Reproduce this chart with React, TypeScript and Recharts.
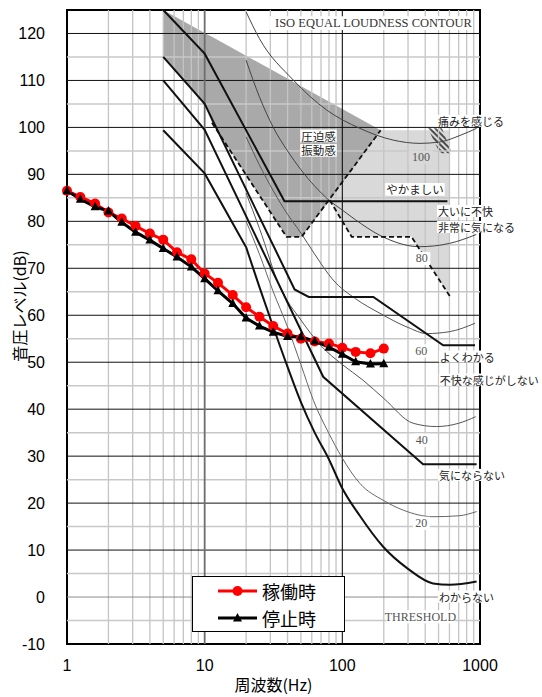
import { Area, ComposedChart, Legend, Line, ReferenceArea, ReferenceLine, Scatter, XAxis, YAxis } from 'recharts'

type Pt = [number, number]
type Band = [number, number, number]
type Tag = [number, number, string]

// 1/3 octave bands (Hz) and measured levels (dB)
const freqs = [1, 1.25, 1.6, 2, 2.5, 3.15, 4, 5, 6.3, 8, 10, 12.5, 16, 20, 25, 31.5, 40, 50, 63, 80, 100, 125, 160, 200]
const running = [86.5, 85.2, 83.8, 81.9, 80.6, 79.0, 77.4, 76.1, 73.4, 71.9, 68.9, 66.9, 64.3, 61.7, 59.7, 57.7, 56.1, 55.0, 54.4, 54.0, 53.1, 52.2, 51.9, 52.9]
const stopped = [86.5, 84.7, 83.1, 82.2, 79.8, 77.7, 76.0, 74.2, 72.4, 70.3, 67.8, 65.2, 62.5, 59.4, 57.7, 56.4, 55.5, 55.4, 54.5, 53.2, 51.7, 50.1, 49.6, 49.7]

// ISO equal loudness contours
const phon100: Pt[] = [[20, 124.6], [25, 118.9], [44, 110.1], [77, 103.7], [134, 99.8], [234, 97.3], [366, 96.6], [512, 96.9], [717, 98.3], [945, 99.8]]
const phon80: Pt[] = [[20, 114.3], [25, 106.5], [31.5, 100], [40, 95], [50, 91], [63, 87.5], [80, 84.5], [100, 82.4], [125, 80.3], [188, 77], [366, 74.6], [600, 75.3], [940, 77.2]]
const phon60: Pt[] = [[20, 98], [25, 92], [31.5, 86.5], [40, 81.5], [50, 77.5], [63, 73], [85.8, 67.5], [125, 63.5], [188, 60.4], [300, 57.4], [410, 56.1], [600, 56.5], [920, 58.3]]
const phon40: Pt[] = [[20, 86], [25, 78.5], [35.2, 66], [50, 59], [70, 53.5], [100, 49.5], [141, 46.2], [200, 42.3], [327, 37], [482, 36.3], [700, 37], [930, 38.4]]
const phon20: Pt[] = [[20, 80], [25, 73], [31.5, 65], [40, 57.5], [50, 49.5], [61.6, 41.9], [80, 34.8], [98.5, 29.9], [134, 24.2], [198, 20.6], [277, 18.5], [456, 17.1], [700, 17.3], [945, 18.2]]
const threshold: Pt[] = [[20, 74.5], [25, 66], [31.5, 57.5], [40, 49], [50, 41.5], [63, 35], [80, 29.3], [98.5, 23.5], [134, 17.3], [198, 10.7], [300, 6], [456, 2.9], [605, 2.6], [945, 3.3]]

// feeling boundaries
const yakamashii: Pt[] = [[5, 125], [10, 115.7], [38, 84.3], [580, 84.3]]
const yokuwakaru: Pt[] = [[5, 115], [10, 105], [45, 65.5], [57, 63.9], [168, 63.9], [540, 53.6], [920, 53.6]]
const kininaranai: Pt[] = [[5, 110], [10, 99.5], [72.6, 46.9], [386, 28.3], [945, 28.3]]
const wakaranai: Pt[] = [[5, 99.4], [10, 90.2], [20, 74.5]]
const pressureEdge: Pt[] = [[11.3, 101], [39.3, 76.7], [50.6, 76.7], [190, 99.4]]
const annoyEdge: Pt[] = [[81, 84.5], [117, 76.7], [318, 76.7], [605, 64]]

// shaded zones: [Hz, low, high]
const pressureBand: Band[] = [[5, 115, 125], [10, 105, 120.1], [11.3, 101, 119.3], [39.3, 76.7, 110.5], [50.6, 76.7, 108.7], [81, 84.5, 105.4], [190, 99.4, 99.4]]
const loudBand: Band[] = [[81, 84.5, 99.4], [117, 76.7, 99.4], [318, 76.7, 99.4], [605, 64, 99.4]]
const painBand: Band[] = [[418, 99.8, 99.8], [511, 94.5, 99.8], [529, 94.5, 99.8], [625, 94.5, 94.5]]

// annotations
const titleTag: Tag[] = [[873, 122.2, 'ISO EQUAL LOUDNESS CONTOUR']]
const phonTags: Tag[] = [[378, 72.1, '80'], [375, 52.4, '60'], [378, 33.4, '40'], [375, 15.7, '20'], [369, -4.2, 'THRESHOLD']]
const bandPhonTags: Tag[] = [[372, 93.7, '100']]
const zoneTags: Tag[] = [[67.1, 98.2, '圧迫感'], [67.1, 95.1, '振動感'], [337, 86.8, 'やかましい']]
const feelingTags: Tag[] = [[495, 101.4, '痛みを感じる'], [495, 82.2, '大いに不快'], [495, 78.8, '非常に気になる'], [511, 51.2, 'よくわかる'], [511, 46.3, '不快な感じがしない'], [503, 26.0, '気にならない'], [503, 0.1, 'わからない']]

const xTicks = [1, 10, 100, 1000]
const xMinor = [2, 3, 4, 5, 6, 7, 8, 9, 20, 30, 40, 50, 60, 70, 80, 90, 200, 300, 400, 500, 600, 700, 800, 900]
const xMajor = [10, 100]
const yTicks = [-10, 0, 10, 20, 30, 40, 50, 60, 70, 80, 90, 100, 110, 120]
const yMinor = [-5, 5, 15, 25, 35, 45, 55, 65, 75, 85, 95, 105, 115]
const yMajor = [10, 20, 30, 40, 50, 60, 70, 80, 90, 100, 110, 120]

const pts = (a: Pt[]) => a.map(([x, y]) => ({ x, y }))
const band = (a: Band[]) => a.map(([x, lo, hi]) => ({ x, r: [lo, hi] }))
const tags = (a: Tag[]) => a.map(([x, y, text]) => ({ x, y, text }))
const series = (vals: number[]) => freqs.map((x, i) => ({ x, y: vals[i] }))

const SANS = 'Liberation Sans, Arial, sans-serif'
const JP = 'Noto Sans CJK JP, sans-serif'
const SERIF = 'Liberation Serif, serif'

function Note({ cx, cy, payload, anchor, size, family, color, bg }: any) {
  if (cx == null || cy == null) return <g />
  const text: string = payload.text
  const cjk = /[^\x00-\x7f]/.test(text)
  const w = cjk ? text.length * size : text.length * size * 0.62
  const x0 = anchor === 'start' ? cx : anchor === 'end' ? cx - w : cx - w / 2
  return (
    <g>
      {bg && <rect x={x0 - 1} y={cy - size * 0.55} width={w + 2} height={size * 1.1} fill={bg} />}
      <text x={cx} y={cy} textAnchor={anchor} dominantBaseline="central" fontSize={size} fontFamily={family} fill={color}>{text}</text>
    </g>
  )
}

function Triangle(props: any) {
  const { cx, cy } = props
  if (cx == null || cy == null) return <g key={props.key} />
  return <path key={props.key} d={`M${cx},${cy - 5}L${cx + 4.5},${cy + 3.5}L${cx - 4.5},${cy + 3.5}Z`} fill="#000" />
}

function LegendBox() {
  const row = (top: number, color: string, label: string, tri: boolean) => (
    <div style={{ position: 'absolute', left: 0, top, height: 20, display: 'flex', alignItems: 'center' }}>
      <svg width={69} height={20}>
        <line x1={25} x2={64} y1={10} y2={10} stroke={color} strokeWidth={3} />
        {tri ? <path d="M44.5,5L49,13.5L40,13.5Z" fill={color} /> : <circle cx={44.5} cy={10} r={5} fill={color} />}
      </svg>
      <span style={{ fontFamily: JP, fontSize: 18, lineHeight: '20px', color: '#000' }}>{label}</span>
    </div>
  )
  return (
    <div style={{ position: 'relative', width: 153, height: 56, border: '1px solid #000', background: '#fff', boxSizing: 'border-box' }}>
      {row(3.7, '#ff0000', '稼働時', false)}
      {row(31.3, '#000', '停止時', true)}
    </div>
  )
}

export default function App() {
  const guide = (key: string, data: Pt[], stroke: string, width: number, curve: 'linear' | 'monotone', dash?: string) => (
    <Line key={key} data={pts(data)} dataKey="y" type={curve} stroke={stroke} strokeWidth={width} strokeDasharray={dash} dot={false} activeDot={false} isAnimationActive={false} legendType="none" />
  )
  return (
    <div style={{ width: 542, height: 697 }}>
      <style>{'body{margin:0}'}</style>
      <ComposedChart width={542} height={697} margin={{ top: 10, right: 62, bottom: 0, left: 7 }}>
        <defs>
          <pattern id="hatch" width="4" height="4" patternUnits="userSpaceOnUse" patternTransform="rotate(-45)">
            <line x1="1" y1="0" x2="1" y2="4" stroke="#000" strokeWidth="1.3" />
          </pattern>
        </defs>
        <XAxis dataKey="x" type="number" scale="log" domain={[1, 1000]} ticks={xTicks} axisLine={false} tickLine={false} tickSize={0} tickMargin={16} height={53}
          tick={{ fill: '#000', fontSize: 16, fontFamily: SANS }}
          label={{ value: '周波数(Hz)', position: 'insideBottom', offset: 6, fill: '#000', fontSize: 16, fontFamily: JP }} />
        <YAxis type="number" domain={[-10, 125]} ticks={yTicks} width={60} axisLine={false} tickLine={false} tickSize={0} tickMargin={22}
          tick={{ fill: '#000', fontSize: 16, fontFamily: SANS }}
          label={{ position: 'insideLeft', content: ({ viewBox }: any) => {
            const x = viewBox.x + 12
            const y = viewBox.y + viewBox.height / 2 - 21
            return <text x={x} y={y} transform={`rotate(-90 ${x} ${y})`} textAnchor="middle" dominantBaseline="central" fontSize={16} fontFamily={JP} fill="#000">音圧レベル(dB)</text>
          } }} />

        <Area data={band(loudBand)} dataKey="r" type="linear" fill="#d9d9d9" fillOpacity={1} stroke="none" isAnimationActive={false} legendType="none" />
        <Area data={band(pressureBand)} dataKey="r" type="linear" fill="#a9a9a9" fillOpacity={1} stroke="none" isAnimationActive={false} legendType="none" />
        <Area data={band(painBand)} dataKey="r" type="linear" fill="url(#hatch)" fillOpacity={1} stroke="none" isAnimationActive={false} legendType="none" />

        {xMinor.map((v) => <ReferenceLine key={`xm${v}`} x={v} stroke="#c4c4c4" strokeWidth={1.3} />)}
        {yMinor.map((v) => <ReferenceLine key={`ym${v}`} y={v} stroke="#c8c8c8" strokeWidth={1.5} />)}
        <ReferenceLine y={0} stroke="#8c8c8c" strokeWidth={1} />
        {yMajor.map((v) => <ReferenceLine key={`yM${v}`} y={v} stroke="#111" strokeWidth={1} />)}
        <ReferenceLine x={xMajor[0]} stroke="#6e6e6e" strokeWidth={1.8} />
        <ReferenceLine x={xMajor[1]} stroke="#111" strokeWidth={1.1} />

        {guide('p100', phon100, '#444', 1, 'monotone')}
        {guide('p80', phon80, '#444', 1, 'monotone')}
        {guide('p60', phon60, '#555', 1, 'monotone')}
        {guide('p40', phon40, '#555', 1, 'monotone')}
        {guide('p20', phon20, '#666', 1, 'monotone')}
        {guide('thr', threshold, '#111', 2, 'monotone')}
        {guide('yak', yakamashii, '#111', 2, 'linear')}
        {guide('yok', yokuwakaru, '#111', 2, 'linear')}
        {guide('kin', kininaranai, '#111', 2, 'linear')}
        {guide('wak', wakaranai, '#111', 2, 'linear')}
        {guide('pe', pressureEdge, '#111', 1.8, 'linear', '5 3')}
        {guide('ae', annoyEdge, '#111', 1.8, 'linear', '5 3')}

        <ReferenceArea x1={1} x2={1000} y1={-10} y2={125} fill="none" fillOpacity={0} stroke="#000" strokeWidth={2} />

        <Line data={series(running)} dataKey="y" name="稼働時" type="linear" stroke="#ff0000" strokeWidth={3} dot={{ r: 5, fill: '#ff0000', stroke: '#ff0000', strokeWidth: 0 }} activeDot={false} isAnimationActive={false} />
        <Line data={series(stopped)} dataKey="y" name="停止時" type="linear" stroke="#000" strokeWidth={3} dot={Triangle} activeDot={false} isAnimationActive={false} />

        <Scatter data={tags(titleTag)} dataKey="y" isAnimationActive={false} legendType="none" shape={(p: any) => <Note {...p} anchor="end" size={12.5} family={SERIF} color="#333" bg="#fff" />} />
        <Scatter data={tags(phonTags)} dataKey="y" isAnimationActive={false} legendType="none" shape={(p: any) => <Note {...p} anchor="middle" size={12} family={SERIF} color="#555" bg="#fff" />} />
        <Scatter data={tags(bandPhonTags)} dataKey="y" isAnimationActive={false} legendType="none" shape={(p: any) => <Note {...p} anchor="middle" size={12} family={SERIF} color="#555" bg="#d9d9d9" />} />
        <Scatter data={tags(zoneTags)} dataKey="y" isAnimationActive={false} legendType="none" shape={(p: any) => <Note {...p} anchor="middle" size={11.5} family={JP} color="#222" bg="#fff" />} />
        <Scatter data={tags(feelingTags)} dataKey="y" isAnimationActive={false} legendType="none" shape={(p: any) => <Note {...p} anchor="start" size={11} family={JP} color="#222" bg="#fff" />} />

        <Legend layout="horizontal" verticalAlign="middle" align="center" content={LegendBox} wrapperStyle={{ left: 192, top: 576, width: 153, height: 56 }} />
      </ComposedChart>
    </div>
  )
}
